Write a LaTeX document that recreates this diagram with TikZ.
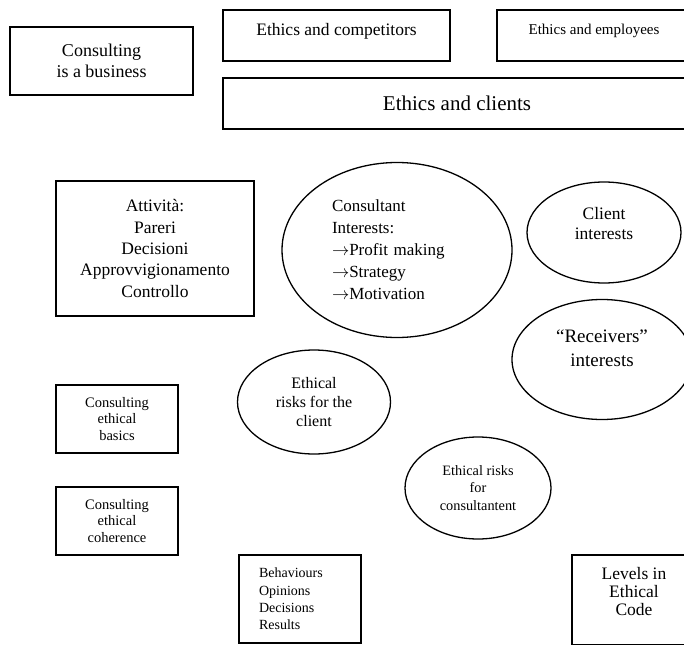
\documentclass[tikz,border=0pt]{standalone}
\usepackage{fontspec}
\setmainfont{Liberation Serif}
\usetikzlibrary{positioning}
\usetikzlibrary{shapes}
\tikzset{
        textnode/.style={align=center,inner sep=0pt},
        % Rectangular boxes
        node_box/.style={textnode, rectangle, draw=black, line width=1.5pt},
        % Oval nodes
        node_oval/.style={textnode, ellipse, draw=black, line width=1.3pt},
        % Font sizes
        fs_small/.style={font=\fontsize{14.5}{16.8}\selectfont},
        fs_mid/.style={font=\fontsize{17.5}{21}\selectfont},
        fs_big/.style={font=\fontsize{17.5}{21.5}\selectfont}
}
\begin{document}
\begin{tikzpicture}[x=1pt, y=-1pt]
            \useasboundingbox (0,0) rectangle (684,644);
            % Top row
            \node[node_box, font=\fontsize{18}{21}\selectfont, minimum width=183pt, minimum height=68pt] (business) at (101.5,61) {Consulting\\is a business};
            \node[node_box, fs_mid, text depth=12pt, minimum width=227pt, minimum height=51pt] (competitors) at (336.5,35.5) {Ethics and competitors};
            \node[node_box, font=\fontsize{15}{17}\selectfont, text depth=13pt, minimum width=194pt, minimum height=51pt] (employees) at (594,35.5) {Ethics and employees};
            \node[node_box, font=\fontsize{21}{24}\selectfont, minimum width=468pt, minimum height=51pt] (clients) at (457,103.5) {Ethics and clients};
            % Middle part
            \node[node_box, fs_big, minimum width=198pt, minimum height=135pt] (attivita) at (155,248.5) {Attivit\`a:\\Pareri\\Decisioni\\Approvvigionamento\\Controllo};
            \node[node_oval, font=\fontsize{17}{22}\selectfont, align=left, text width=130pt, minimum width=230pt, minimum height=175pt] (consultant) at (397,250) {Consultant\\Interests:\\$\rightarrow$Profit making\\$\rightarrow$Strategy\\$\rightarrow$Motivation};
            \node[node_oval, font=\fontsize{17.5}{20}\selectfont, text depth=19pt, minimum width=154pt, minimum height=101pt] (clientint) at (604,232.5) {Client\\interests};
            \node[node_oval, font=\fontsize{19}{24}\selectfont, text depth=22pt, minimum width=180pt, minimum height=120pt] (receivers) at (602,359.5) {``Receivers''\\interests};
            \node[node_oval, font=\fontsize{16}{18.7}\selectfont, minimum width=153pt, minimum height=104pt] (riskclient) at (314,402) {Ethical\\risks for the\\client};
            \node[node_oval, font=\fontsize{14.3}{17.8}\selectfont, minimum width=146pt, minimum height=102pt] (riskcons) at (478,488) {Ethical risks\\for\\consultantent};
            % Left column
            \node[node_box, fs_small, minimum width=122pt, minimum height=68pt] (basics) at (117,419) {Consulting\\ethical\\basics};
            \node[node_box, fs_small, minimum width=122pt, minimum height=68pt] (coherence) at (117,521) {Consulting\\ethical\\coherence};
            % Bottom row
            \node[node_box, font=\fontsize{14}{17.3}\selectfont, align=left, text width=82pt, minimum width=122pt, minimum height=88pt] (behaviours) at (300,599) {Behaviours\\Opinions\\Decisions\\Results};
            \node[node_box, font=\fontsize{17.5}{18}\selectfont, text depth=18pt, minimum width=124pt, minimum height=90pt] (levels) at (634,600) {Levels in\\Ethical\\Code};
\end{tikzpicture}
\end{document}
